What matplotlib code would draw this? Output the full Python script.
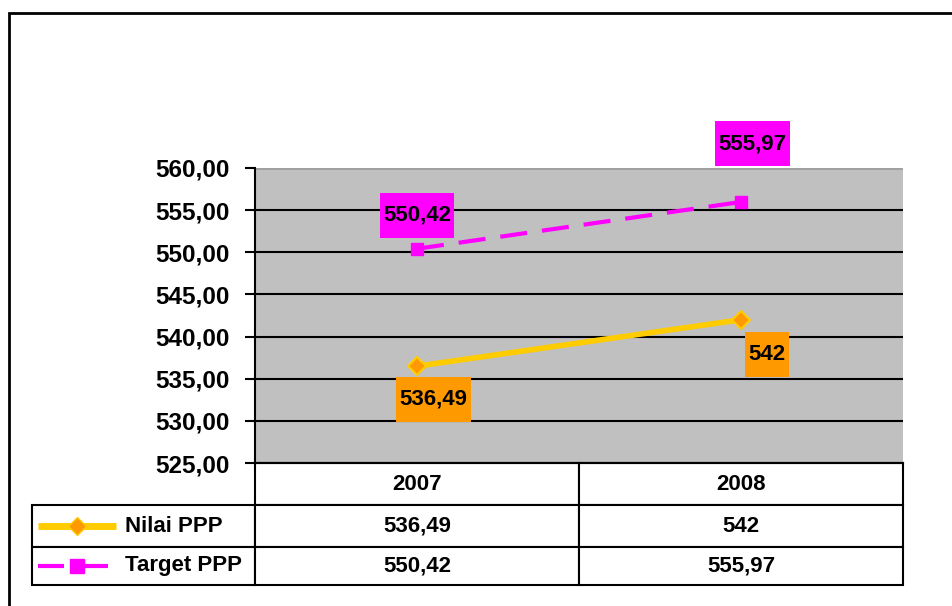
import matplotlib
matplotlib.use('Agg')
import matplotlib.pyplot as plt
from matplotlib.table import Table
from matplotlib.patches import Rectangle
from matplotlib.path import Path

plt.rcParams['font.family'] = ['Liberation Sans', 'DejaVu Sans']
plt.rcParams['font.weight'] = 'bold'

years = ['2007', '2008']
nilai_ppp = [536.49, 542.0]
target_ppp = [550.42, 555.97]
series_names = ['Nilai PPP', 'Target PPP']
y_ticks = [525, 530, 535, 540, 545, 550, 555, 560]


def fmt(v):
    return f'{v:g}'.replace('.', ',')


def label_box(x0, y0, width, height, mutation_size):
    # rectangle with small side padding and tall top/bottom padding
    px, py = 0.15 * mutation_size, 0.55 * mutation_size
    x0, y0 = x0 - px, y0 - py
    x1, y1 = x0 + width + 2 * px, y0 + height + 2 * py
    return Path([(x0, y0), (x1, y0), (x1, y1), (x0, y1), (x0, y0)],
                closed=True)


fig = plt.figure(figsize=(9.53, 6.06), dpi=100)

# outer chart frame (right/bottom edges fall outside the image)
fig.patches.append(Rectangle((9 / 953, -0.05), 1.0, 0.05 + 1 - 13 / 606,
                             transform=fig.transFigure, fill=False,
                             edgecolor='black', linewidth=2))

ax = fig.add_axes([255 / 953, 1 - 463 / 606, 648 / 953, 295 / 606])
ax.set_facecolor('#C0C0C0')

x = [0, 1]
ax.plot(x, target_ppp, color='#FF00FF', linewidth=3, linestyle=(0, (6.5, 3.6)),
        marker='s', markersize=8, markerfacecolor='#FF00FF',
        markeredgecolor='#FF00FF', zorder=3)
ax.plot(x, nilai_ppp, color='#FFCC00', linewidth=4,
        marker='D', markersize=9, markerfacecolor='#FF9900',
        markeredgecolor='#FFCC00', markeredgewidth=1.5, zorder=3)

# data labels
label_offsets = {'nilai': [(12, -24), (19, -25)], 'target': [(0, 24), (8, 42)]}
for key, vals, fc in [('nilai', nilai_ppp, '#FF9900'), ('target', target_ppp, '#FF00FF')]:
    for i, v in enumerate(vals):
        ax.annotate(fmt(v), (x[i], v), xytext=label_offsets[key][i],
                    textcoords='offset points', ha='center', va='center',
                    fontsize=16, fontweight='bold', annotation_clip=False,
                    bbox=dict(boxstyle=label_box, facecolor=fc, edgecolor='none'),
                    zorder=4)

ax.set_xlim(-0.5, 1.5)
ax.set_ylim(525, 560)
ax.set_yticks(y_ticks)
ax.set_yticklabels([f'{t:.2f}'.replace('.', ',') for t in y_ticks])
ax.tick_params(axis='y', labelsize=17.5, length=7, width=1.5, direction='out', pad=11)
ax.set_xticks([])
ax.grid(axis='y', color='black', linewidth=1.5)
ax.set_axisbelow(True)

for s in ['top', 'right']:
    ax.spines[s].set_visible(False)
ax.spines['left'].set_linewidth(1.5)
ax.spines['bottom'].set_linewidth(1.5)
ax.axhline(560, color='#A0A0A0', linewidth=2, zorder=2)

# data table under the plot
tbl = Table(ax, bbox=[(32 - 255) / 648, (463 - 585) / 295, (903 - 32) / 648, (585 - 463) / 295])
col_w = [223, 324, 324]
row_h = [42, 42, 38]
for j, yr in enumerate(years):
    tbl.add_cell(0, j + 1, width=col_w[j + 1], height=row_h[0], text=yr, loc='center')
for r, vals in enumerate([nilai_ppp, target_ppp]):
    tbl.add_cell(r + 1, 0, width=col_w[0], height=row_h[r + 1], text='')
    for j, v in enumerate(vals):
        tbl.add_cell(r + 1, j + 1, width=col_w[j + 1], height=row_h[r + 1], text=fmt(v), loc='center')
for cell in tbl.get_celld().values():
    cell.set_linewidth(1.5)
    cell.set_edgecolor('black')
    cell.set_facecolor('white')
    cell.get_text().set_fontsize(16)
    cell.get_text().set_fontweight('bold')
tbl.auto_set_font_size(False)
ax.add_table(tbl)

# legend keys inside the table row labels (pixel spans of the key segments)
key_styles = [
    dict(color='#FFCC00', linewidth=5, marker='D', markersize=9,
         markerfacecolor='#FF9900', markeredgecolor='#FFCC00',
         segments=[(38, 116)]),
    dict(color='#FF00FF', linewidth=3, marker='s', markersize=10,
         markerfacecolor='#FF00FF', markeredgecolor='#FF00FF',
         segments=[(38, 64), (80, 108)]),
]
row_centers = [(463 - 526) / 295, (463 - 566) / 295]
for name, st, yc in zip(series_names, key_styles, row_centers):
    for a, b in st['segments']:
        ax.plot([(a - 255) / 648, (b - 255) / 648], [yc, yc],
                transform=ax.transAxes, clip_on=False, color=st['color'],
                linewidth=st['linewidth'], solid_capstyle='butt')
    ax.plot([(77 - 255) / 648], [yc], transform=ax.transAxes, clip_on=False,
            linestyle='none', marker=st['marker'], markersize=st['markersize'],
            markerfacecolor=st['markerfacecolor'], markeredgecolor=st['markeredgecolor'])
    ax.text((125 - 255) / 648, yc, name, transform=ax.transAxes, ha='left',
            va='center', fontsize=16, fontweight='bold')

fig.savefig('out.png', dpi=100, facecolor='white')
